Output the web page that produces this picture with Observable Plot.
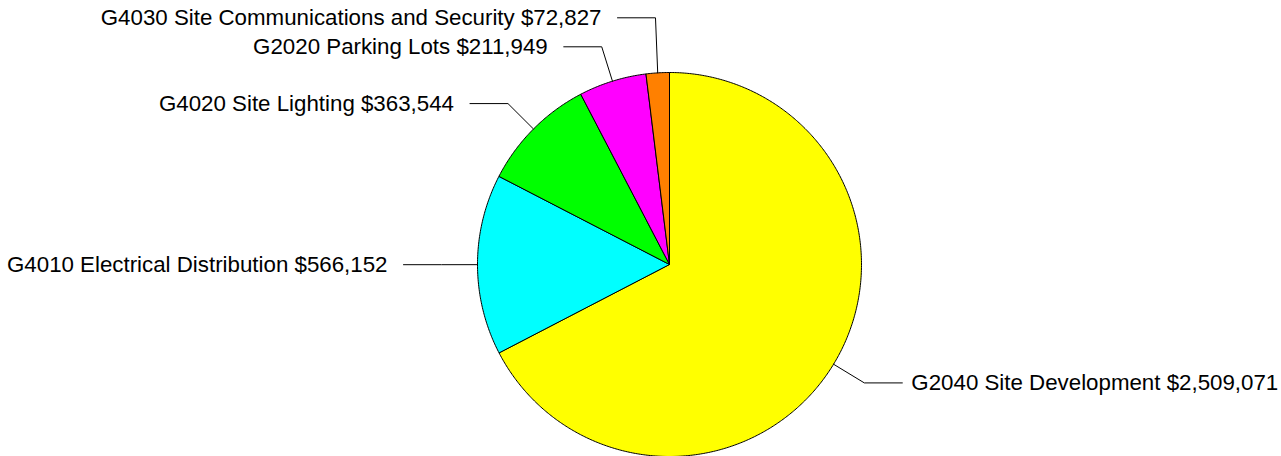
<!DOCTYPE html>
<html><head><meta charset="utf-8">
<script src="https://cdn.jsdelivr.net/npm/d3@7"></script>
<script src="https://cdn.jsdelivr.net/npm/@observablehq/plot@0.6"></script>
<style>body{margin:0;background:#fff;}</style>
</head><body><div id="chart"></div>
<script>
// Data
const codes = ["G2040", "G4010", "G4020", "G2020", "G4030"];
const names = ["Site Development", "Electrical Distribution", "Site Lighting", "Parking Lots", "Site Communications and Security"];
const values = [2509071, 566152, 363544, 211949, 72827];
const colors = ["#ffff00", "#00ffff", "#00ff00", "#ff00ff", "#ff8000"];

// Layout
const W = 1281, H = 456, CX = 669, CY = 264, R = 192;
const elbowR = 1.1875, hLen = 38 / R, gap = 29 / R;

const arcs = d3.pie().sort(null).value(d => d)(values);
const slices = arcs.map((a, i) => ({
  i, label: `${codes[i]} ${names[i]} $${d3.format(",")(values[i])}`,
  color: colors[i], a0: a.startAngle, a1: a.endAngle, mid: (a.startAngle + a.endAngle) / 2
}));

function wedge(s) {
  const pts = [{x: 0, y: 0}];
  const n = Math.max(2, Math.ceil((s.a1 - s.a0) / (Math.PI / 360)));
  for (let k = 0; k <= n; k++) {
    const a = s.a0 + (s.a1 - s.a0) * k / n;
    pts.push({x: Math.sin(a), y: Math.cos(a)});
  }
  pts.push({x: 0, y: 0});
  return pts;
}

// leader layout
slices.forEach(s => {
  s.ax = Math.sin(s.mid); s.ay = Math.cos(s.mid);
  s.ex = elbowR * s.ax; s.ey = elbowR * s.ay;
  s.left = s.ax < 0;
});
for (const side of [true, false]) {
  const grp = slices.filter(s => s.left === side).sort((a, b) => a.ey - b.ey);
  for (let k = 1; k < grp.length; k++) {
    if (grp[k].ey < grp[k - 1].ey + gap) grp[k].ey = grp[k - 1].ey + gap;
  }
}
slices.forEach(s => { s.tx = s.ex + (s.left ? -hLen : hLen); });

const marks = [];
slices.forEach(s => {
  marks.push(Plot.line(wedge(s), {x: "x", y: "y", fill: s.color, stroke: "#000", strokeWidth: 1, strokeLinejoin: "round"}));
});
slices.forEach(s => {
  marks.push(Plot.line([{x: s.ax, y: s.ay}, {x: s.ex, y: s.ey}, {x: s.tx, y: s.ey}],
    {x: "x", y: "y", stroke: "#000", strokeWidth: 1, curve: "linear"}));
});
marks.push(Plot.text(slices.filter(s => s.left), {x: "tx", y: "ey", text: "label", textAnchor: "end", dx: -16, fontSize: 22.3, fill: "#000"}));
marks.push(Plot.text(slices.filter(s => !s.left), {x: "tx", y: "ey", text: "label", textAnchor: "start", dx: 9, fontSize: 22.3, fill: "#000"}));

const chart = Plot.plot({
  width: W, height: H, margin: 0,
  style: {fontFamily: "'Liberation Sans', Arial, sans-serif", background: "#fff"},
  x: {domain: [-CX / R, (W - CX) / R], range: [0, W], axis: null},
  y: {domain: [-(H - CY) / R, CY / R], range: [H, 0], axis: null},
  marks
});
document.getElementById("chart").appendChild(chart);
</script>
</body></html>
